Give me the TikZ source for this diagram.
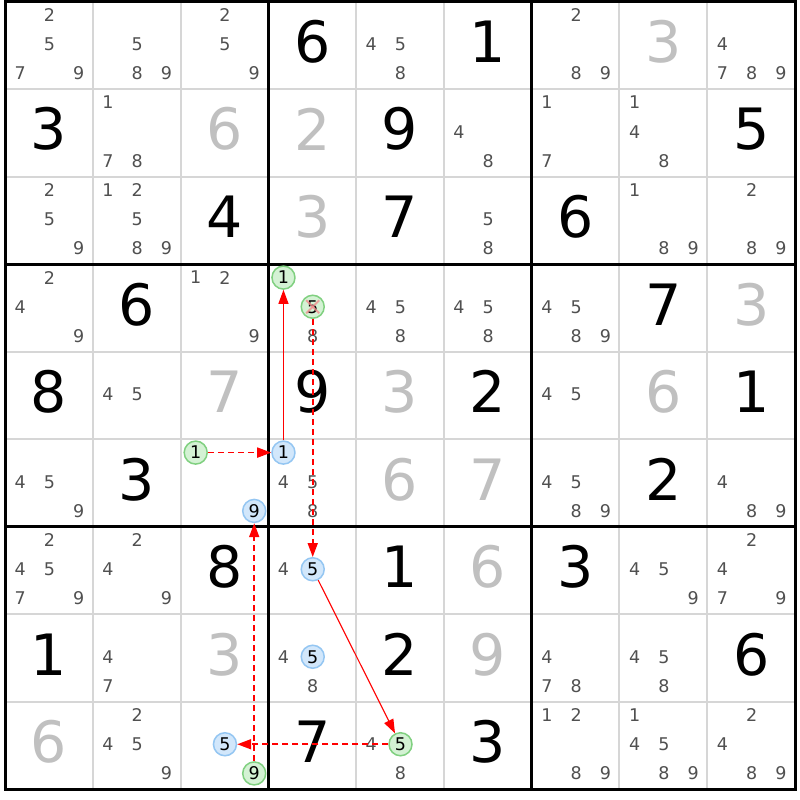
\documentclass[tikz,border=0pt]{standalone}
\usepackage{fontspec}
\setmainfont{DejaVu Sans}
\usetikzlibrary{arrows.meta}
\definecolor{candgrey}{HTML}{505050}
\definecolor{solvedgrey}{HTML}{C0C0C0}
\definecolor{thingrid}{HTML}{D6D6D6}
\definecolor{greenfill}{HTML}{D4F2D4}
\definecolor{greenline}{HTML}{80D080}
\definecolor{bluefill}{HTML}{D2E7FB}
\definecolor{blueline}{HTML}{94C6F2}
\definecolor{xred}{HTML}{F08C8C}
\tikzset{
  cand/.style={inner sep=0pt,text=candgrey,font=\fontsize{17.5}{17.5}\selectfont},
  bigdigit/.style={inner sep=0pt,text=black,font=\fontsize{57}{57}\selectfont},
  thingridline/.style={draw=thingrid,line width=2pt},
  thickgridline/.style={draw=black,line width=3pt},
  arr/.style={draw=red,line width=1.1pt,-{Triangle[length=14pt,width=10pt]}},
  dsh/.style={line width=1.8pt,dash pattern=on 6pt off 4pt},
  xmarkline/.style={draw=xred,line width=2pt,opacity=0.8},
}
\newcommand\cands[3]{\foreach \d in {#3}{\node[cand] (k#1#2\d) at ({5.5+87.78*(#2-1)+14.63*(2*mod(\d-1,3)+1)},{0.5+87.5*(#1-1)+14.583*(2*int((\d-1)/3)+1)}) {\d};}}
\newcommand\hilite[4]{\node[cand,text=black,circle,draw=#4line,fill=#4fill,line width=1.5pt,minimum size=23pt] (k#1#2#3) at ({5.5+87.78*(#2-1)+14.63*(2*mod(#3-1,3)+1)},{0.5+87.5*(#1-1)+14.583*(2*int((#3-1)/3)+1)}) {#3};}
\newcommand\given[3]{\node[bigdigit] (g#1#2) at ({5+87.78*(#2-0.5)},{1.5+87.5*(#1-0.5)-3.5}) {#3};}
\newcommand\solved[3]{\node[bigdigit,text=solvedgrey] (g#1#2) at ({5+87.78*(#2-0.5)},{1.5+87.5*(#1-0.5)-3.5}) {#3};}
\begin{document}
\begin{tikzpicture}[x=1pt,y=-1pt]
\useasboundingbox (0,0) rectangle (800,800);
\fill[white] (0,0) rectangle (800,800);
% grid
\foreach \i in {1,2,4,5,7,8}{
  \draw[thingridline] ({5+87.78*\i},1.5) -- ({5+87.78*\i},789);
  \draw[thingridline] (5,{1.5+87.5*\i}) -- (795,{1.5+87.5*\i});
}
\foreach \i in {3,6}{
  \draw[thickgridline] ({5+87.78*\i},1.5) -- ({5+87.78*\i},789);
  \draw[thickgridline] (5,{1.5+87.5*\i}) -- (795,{1.5+87.5*\i});
}
\draw[thickgridline] (5,1.5) rectangle (795,789);
% row 1
\cands{1}{1}{2,5,7,9} \cands{1}{2}{5,8,9} \cands{1}{3}{2,5,9}
\given{1}{4}{6} \cands{1}{5}{4,5,8} \given{1}{6}{1}
\cands{1}{7}{2,8,9} \solved{1}{8}{3} \cands{1}{9}{4,7,8,9}
% row 2
\given{2}{1}{3} \cands{2}{2}{1,7,8} \solved{2}{3}{6}
\solved{2}{4}{2} \given{2}{5}{9} \cands{2}{6}{4,8}
\cands{2}{7}{1,7} \cands{2}{8}{1,4,8} \given{2}{9}{5}
% row 3
\cands{3}{1}{2,5,9} \cands{3}{2}{1,2,5,8,9} \given{3}{3}{4}
\solved{3}{4}{3} \given{3}{5}{7} \cands{3}{6}{5,8}
\given{3}{7}{6} \cands{3}{8}{1,8,9} \cands{3}{9}{2,8,9}
% row 4
\cands{4}{1}{2,4,9} \given{4}{2}{6} \cands{4}{3}{1,2,9}
\hilite{4}{4}{1}{green} \hilite{4}{4}{5}{green} \cands{4}{4}{8}
\cands{4}{5}{4,5,8} \cands{4}{6}{4,5,8}
\cands{4}{7}{4,5,8,9} \given{4}{8}{7} \solved{4}{9}{3}
% row 5
\given{5}{1}{8} \cands{5}{2}{4,5} \solved{5}{3}{7}
\given{5}{4}{9} \solved{5}{5}{3} \given{5}{6}{2}
\cands{5}{7}{4,5} \solved{5}{8}{6} \given{5}{9}{1}
% row 6
\cands{6}{1}{4,5,9} \given{6}{2}{3} \hilite{6}{3}{1}{green} \hilite{6}{3}{9}{blue}
\hilite{6}{4}{1}{blue} \cands{6}{4}{4,5,8} \solved{6}{5}{6} \solved{6}{6}{7}
\cands{6}{7}{4,5,8,9} \given{6}{8}{2} \cands{6}{9}{4,8,9}
% row 7
\cands{7}{1}{2,4,5,7,9} \cands{7}{2}{2,4,9} \given{7}{3}{8}
\cands{7}{4}{4} \hilite{7}{4}{5}{blue} \given{7}{5}{1} \solved{7}{6}{6}
\given{7}{7}{3} \cands{7}{8}{4,5,9} \cands{7}{9}{2,4,7,9}
% row 8
\given{8}{1}{1} \cands{8}{2}{4,7} \solved{8}{3}{3}
\cands{8}{4}{4,8} \hilite{8}{4}{5}{blue} \given{8}{5}{2} \solved{8}{6}{9}
\cands{8}{7}{4,7,8} \cands{8}{8}{4,5,8} \given{8}{9}{6}
% row 9
\solved{9}{1}{6} \cands{9}{2}{2,4,5,9} \hilite{9}{3}{5}{blue} \hilite{9}{3}{9}{green}
\given{9}{4}{7} \cands{9}{5}{4,8} \hilite{9}{5}{5}{green} \given{9}{6}{3}
\cands{9}{7}{1,2,8,9} \cands{9}{8}{1,4,5,8,9} \cands{9}{9}{2,4,8,9}
% elimination mark
\draw[xmarkline] ([shift={(-6.5,-6.5)}]k445.center) -- ([shift={(6.5,6.5)}]k445.center);
\draw[xmarkline] ([shift={(-6.5,6.5)}]k445.center) -- ([shift={(6.5,-6.5)}]k445.center);
% chain
\draw[arr,dsh] (k631) -- (k641);
\draw[arr] (k641) -- (k441);
\draw[arr,dsh] (k445) -- (k745);
\draw[arr] (k745) -- (k955);
\draw[arr,dsh] (k955) -- (k935);
\draw[arr,dsh] (k939) -- (k639);
\end{tikzpicture}
\end{document}
